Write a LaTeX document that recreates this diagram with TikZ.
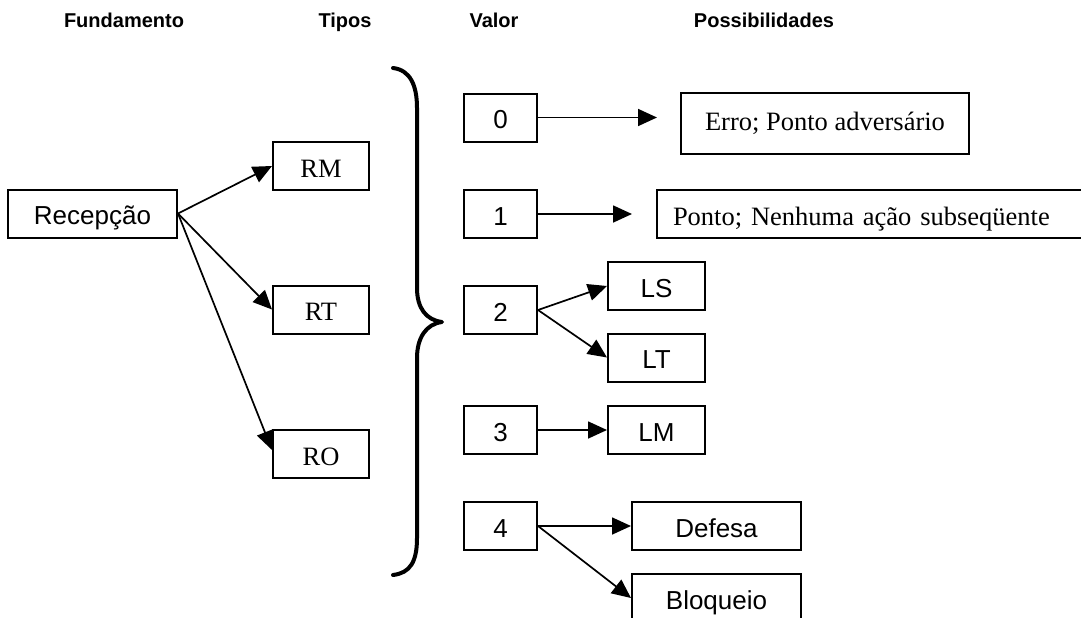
\documentclass[tikz,border=0pt]{standalone}
\usepackage{fontspec}
\setmainfont{Liberation Serif}
\setsansfont{Liberation Sans}
\usetikzlibrary{arrows.meta,calc}
\begin{document}
\begin{tikzpicture}[x=1pt,y=-1pt,
  box/.style={draw, line width=2pt, inner sep=0pt, minimum height=48pt,
    text height=22pt, text depth=0pt},
  sans/.style={font=\sffamily\fontsize{26}{31}\selectfont},
  serif/.style={font=\rmfamily\fontsize{26.5}{31}\selectfont},
  head/.style={font=\sffamily\bfseries\fontsize{20}{24}\selectfont, anchor=base},
  link/.style={line width=1.7pt, -{Triangle[length=19pt,width=17pt]}},
  brace/.style={line width=4pt, line cap=round, line join=round}]

% canvas
\clip (0,0) rectangle (1081,618);

% column headings
\node[head] (hF) at (124,28) {Fundamento};
\node[head] (hT) at (345,28) {Tipos};
\node[head] (hV) at (494,28) {Valor};
\node[head] (hP) at (764,28) {Possibilidades};

% fundamento and types
\node[box,sans,minimum width=169pt] (rec) at (92.5,213.5) {Recepção};
\node[box,serif,minimum width=96pt] (RM) at (321,166) {RM};
\node[box,serif,minimum width=96pt] (RT) at (321,309.5) {RT};
\node[box,serif,minimum width=96pt] (RO) at (321,454) {RO};

\draw[link] (rec.east) -- (RM.west);
\draw[link] (rec.east) -- (RT.west);
\draw[link] (rec.east) -- ($(RO.west)+(0,-4)$);

% brace grouping the values
\draw[brace] (393,68) .. controls (410,70) and (417,85) .. (417,108)
  -- (417,288) .. controls (417,308) and (426,320) .. (442,322)
  .. controls (426,324) and (417,338) .. (417,358)
  -- (417,538) .. controls (417,562) and (410,573) .. (393,575);

% values
\node[box,sans,minimum width=73pt] (v0) at (500.5,117.5) {0};
\node[box,sans,minimum width=73pt] (v1) at (500.5,214) {1};
\node[box,sans,minimum width=73pt] (v2) at (500.5,310) {2};
\node[box,sans,minimum width=73pt] (v3) at (500.5,430) {3};
\node[box,sans,minimum width=73pt] (v4) at (500.5,526) {4};

% possibilities
\node[box,serif,minimum width=288pt,minimum height=61pt,text height=13pt] (erro) at (825,123.5) {Erro; Ponto adversário};
\node[box,serif,anchor=west,inner xsep=16pt,text width=408pt,align=left] (ponto) at (656,214) {Ponto; Nenhuma ação subseqüente};
\node[box,sans,minimum width=97pt] (LS) at (656.5,286) {LS};
\node[box,sans,minimum width=97pt] (LT) at (656.5,357.5) {LT};
\node[box,sans,minimum width=97pt] (LM) at (656.5,430) {LM};
\node[box,sans,minimum width=169pt] (def) at (716.5,526) {Defesa};
\node[box,sans,minimum width=169pt] (bloq) at (716.5,598) {Bloqueio};

\coordinate (t0) at (657,117.5);
\coordinate (t1) at (632,214);

\draw[link] (v0.east) -- (t0);
\draw[link] (v1.east) -- (t1);
\draw[link] (v2.east) -- (LS.west);
\draw[link] (v2.east) -- (LT.west);
\draw[link] (v3.east) -- (LM.west);
\draw[link] (v4.east) -- (def.west);
\draw[link] (v4.east) -- (bloq.west);
\end{tikzpicture}
\end{document}
